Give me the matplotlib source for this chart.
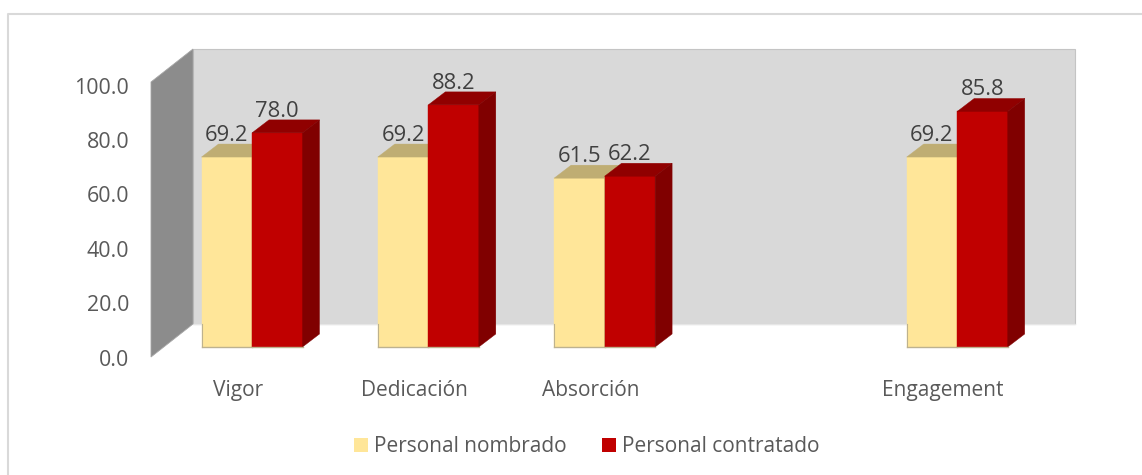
import matplotlib
matplotlib.use('Agg')
import matplotlib.pyplot as plt
from matplotlib.patches import Polygon, Rectangle

plt.rcParams['font.family'] = ['Open Sans', 'DejaVu Sans']

categorias = ['Vigor', 'Dedicación', 'Absorción', 'Engagement']
posiciones = [0, 1, 2, 4]
nombrado = [69.2, 69.2, 61.5, 69.2]
contratado = [78.0, 88.2, 62.2, 85.8]
ticks_y = [0, 20, 40, 60, 80, 100]
series = ['Personal nombrado', 'Personal contratado']

W, H = 1142, 475
# escala en pixeles de la figura
PX_X = 176.3
PX_Y = 2.745
X0, Y0 = 252.0, 347.0
FS = 15
FS_DATOS = 15.8

fig = plt.figure(figsize=(W / 100, H / 100), dpi=100)
ax = fig.add_axes([0, 0, 1, 1])
ax.set_xlim(-X0 / PX_X, (W - X0) / PX_X)
ax.set_ylim((Y0 - H) / PX_Y, Y0 / PX_Y)
ax.axis('off')


def px(x):
    return (x - X0) / PX_X


def py(y):
    return (Y0 - y) / PX_Y


# marco: solo se ve arriba y a la izquierda
ax.plot([px(8), px(8), px(W)], [py(H), py(14), py(14)], color='#d9d9d9', lw=1.5, zorder=0)

# pared del fondo y pared lateral
ax.add_patch(Rectangle((px(193), py(324)), 882 / PX_X, 275 / PX_Y, fc='#d9d9d9', ec='#c4c4c4', lw=0.8, zorder=1))
ax.plot([px(193), px(1075)], [py(324), py(324)], color='#e6e6e6', lw=1, zorder=1)
ax.add_patch(Polygon([(px(151), py(357)), (px(193), py(324)), (px(193), py(49)), (px(151), py(82))],
                     fc='#8c8c8c', ec='#a6a6a6', lw=0.6, zorder=2))

ancho = 50.5 / PX_X
dx = 17 / PX_X
dy = 13 / PX_Y


def barra3d(x, v, frente, arriba, lado, z):
    ax.bar(x, v, ancho, align='edge', color=frente, edgecolor=frente, linewidth=0.3, zorder=z)
    ax.add_patch(Polygon([(x, v), (x + dx, v + dy), (x + ancho + dx, v + dy), (x + ancho, v)],
                         fc=arriba, ec=arriba, lw=0.3, zorder=z))
    ax.add_patch(Polygon([(x + ancho, 0), (x + ancho + dx, dy), (x + ancho + dx, v + dy), (x + ancho, v)],
                         fc=lado, ec=lado, lw=0.3, zorder=z))
    ax.plot([x, x + ancho], [0, 0], color='#bdb28f', lw=1, zorder=z + 1)


sep = 24 / PX_Y
for i, p in enumerate(posiciones):
    barra3d(p - ancho, nombrado[i], '#ffe699', '#bfad73', '#bfad73', 3)
    ax.plot([p - ancho, p - ancho], [0, py(324)], color='#bdb28f', lw=0.8, zorder=4)
    barra3d(p, contratado[i], '#c00000', '#900000', '#800000', 5)
    ax.text(p - ancho / 2, nombrado[i] + sep, '%.1f' % nombrado[i], ha='center', va='center_baseline',
            fontsize=FS_DATOS, color='#404040', zorder=7)
    ax.text(p + ancho / 2, contratado[i] + sep, '%.1f' % contratado[i], ha='center', va='center_baseline',
            fontsize=FS_DATOS, color='#404040', zorder=7)
    ax.text(p - 14 / PX_X, py(388), categorias[i], ha='center', va='center_baseline', fontsize=FS, color='#595959')

# eje y, alineado con la pared lateral
for t in ticks_y:
    ax.text(px(129), py(357.5) + t * 272 / 100 / PX_Y, '%.1f' % t, ha='right', va='center_baseline',
            fontsize=15.4, color='#595959')

# leyenda
for x, c, s in zip([354, 602], ['#ffe699', '#c00000'], series):
    ax.add_patch(Rectangle((px(x), py(452)), 14 / PX_X, 14 / PX_Y, fc=c, ec='none', zorder=3))
    ax.text(px(x + 20), py(444.5), s, ha='left', va='center_baseline', fontsize=FS, color='#595959')

fig.savefig('out.png', dpi=100)
